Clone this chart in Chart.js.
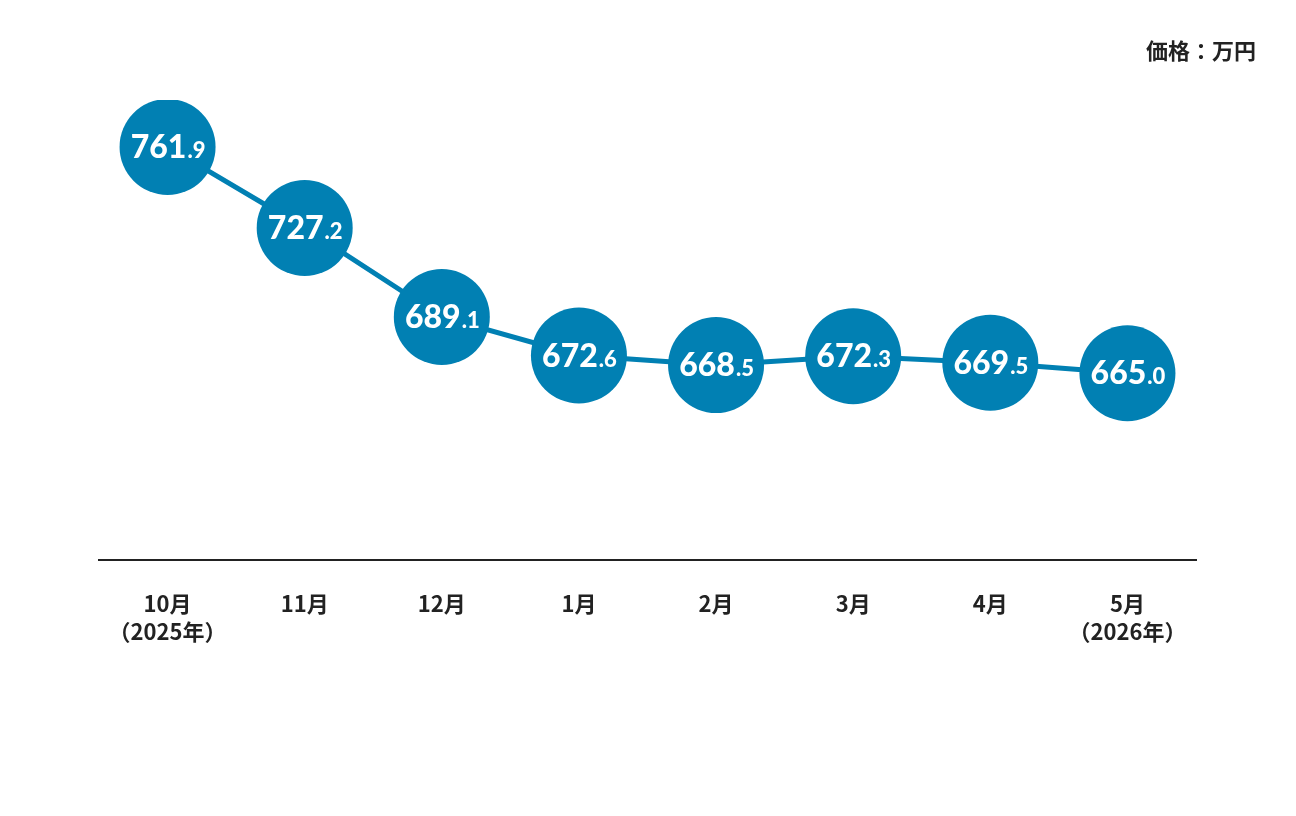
<!DOCTYPE html>
<html>
<head>
<meta charset="utf-8">
<script src="https://cdn.jsdelivr.net/npm/chart.js@4"></script>
<style>
html,body{margin:0;padding:0;background:#fff;}
#wrap{width:1296px;height:816px;position:relative;}
</style>
</head>
<body>
<div id="wrap"><canvas id="c" width="1296" height="816"></canvas></div>
<script>
const categories = [['10月','（2025年）'], '11月', '12月', '1月', '2月', '3月', '4月', ['5月','（2026年）']];
const prices = [761.9, 727.2, 689.1, 672.6, 668.5, 672.3, 669.5, 665.0];
const unitLabel = '価格：万円';

const BLUE = '#0180b3';
const CJK = '"Noto Sans CJK JP", "Noto Sans", sans-serif';
const NUM = 'Lato, "DejaVu Sans", sans-serif';

const labelPlugin = {
  id: 'labels',
  afterDatasetsDraw(chart) {
    const ctx = chart.ctx;
    const meta = chart.getDatasetMeta(0);
    ctx.save();
    ctx.fillStyle = '#fff';
    ctx.textBaseline = 'alphabetic';
    meta.data.forEach((pt, i) => {
      const v = prices[i].toFixed(1);
      const [ip, dp] = v.split('.');
      const big = '900 32px ' + NUM;
      const small = '900 22px ' + NUM;
      ctx.font = big;
      const w1 = ctx.measureText(ip).width;
      ctx.font = small;
      const w2 = ctx.measureText('.' + dp).width;
      const x0 = pt.x - (w1 + w2) / 2;
      const base = pt.y + 11;
      ctx.font = big;
      ctx.textAlign = 'left';
      ctx.fillText(ip, x0, base);
      ctx.font = small;
      ctx.fillText('.' + dp, x0 + w1 + 1, base);
    });
    ctx.restore();
  },
  afterDraw(chart) {
    const ctx = chart.ctx;
    ctx.save();
    ctx.fillStyle = '#222';
    ctx.font = 'bold 22px ' + CJK;
    ctx.textAlign = 'right';
    ctx.textBaseline = 'middle';
    ctx.fillText(unitLabel, 1256, 51);
    ctx.restore();
  }
};

new Chart(document.getElementById('c'), {
  type: 'line',
  data: {
    labels: categories,
    datasets: [{
      data: prices,
      borderColor: BLUE,
      borderWidth: 5,
      backgroundColor: BLUE,
      pointBackgroundColor: BLUE,
      pointBorderWidth: 0,
      pointRadius: 48,
      pointHoverRadius: 48,
      tension: 0,
      fill: false
    }]
  },
  options: {
    responsive: false,
    animation: false,
    events: [],
    layout: { padding: { top: 100, left: 99, right: 100, bottom: 140 } },
    plugins: { legend: { display: false }, tooltip: { enabled: false }, title: { display: false } },
    scales: {
      x: {
        offset: true,
        grid: { display: false, drawTicks: false },
        border: { display: true, color: '#222', width: 2 },
        ticks: {
          color: '#222',
          padding: 30,
          maxRotation: 0,
          autoSkip: false,
          font: { family: CJK, size: 22, weight: 'bold', lineHeight: 1.27 }
        }
      },
      y: {
        display: false,
        min: 585,
        max: 782
      }
    }
  },
  plugins: [labelPlugin]
});
</script>
</body>
</html>
